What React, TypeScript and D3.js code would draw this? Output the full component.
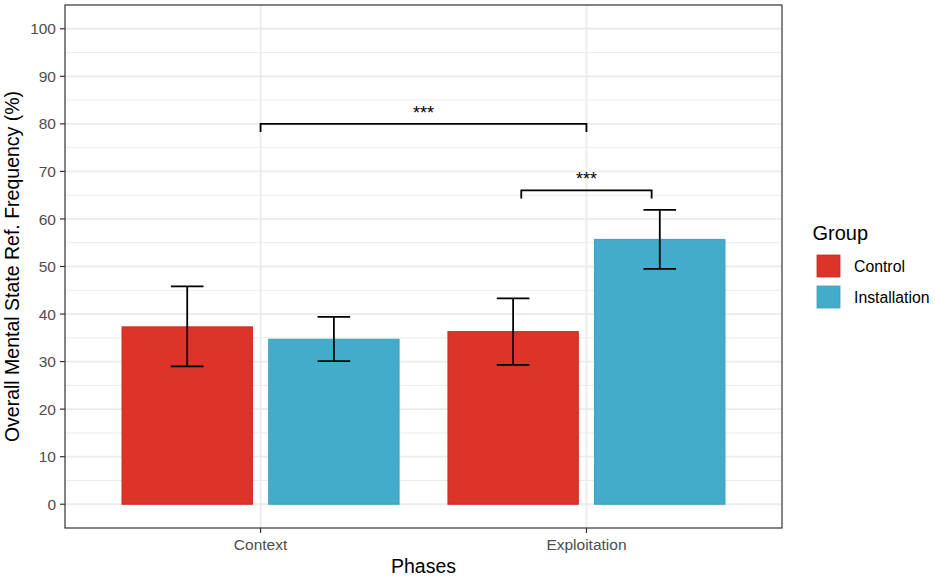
import React, { useEffect } from 'react';
import * as d3 from 'd3';

const phases = ['Context', 'Exploitation'];
const groups = ['Control', 'Installation'];
const groupColors = ['#DD3328', '#42ACCA'];
const groupStroke = ['#C92A20', '#3AA0BE'];

// mean, lower, upper per phase for each group
const controlMean = [37.3, 36.3];
const controlLow = [29.0, 29.3];
const controlHigh = [45.8, 43.3];
const installMean = [34.7, 55.7];
const installLow = [30.1, 49.5];
const installHigh = [39.4, 61.9];

const yTicks = [0, 10, 20, 30, 40, 50, 60, 70, 80, 90, 100];
const yMinor = [5, 15, 25, 35, 45, 55, 65, 75, 85, 95];

// significance brackets: [x1, x2] in discrete units, y level, label
const brackets = [
  { x1: 1, x2: 2, y: 80, label: '***' },
  { x1: 1.8, x2: 2.2, y: 66, label: '***' },
];

const W = 935;
const H = 576;
const panel = { left: 65, top: 5, right: 782, bottom: 528 };
const font = '"Liberation Sans", Arial, sans-serif';

export default function App() {
  useEffect(() => {
    document.body.style.margin = '0';
  }, []);

  const x = d3.scaleLinear().domain([0.4, 2.6]).range([panel.left, panel.right]);
  const y = d3.scaleLinear().domain([-5, 105]).range([panel.bottom, panel.top]);

  const series = [
    { mean: controlMean, low: controlLow, high: controlHigh },
    { mean: installMean, low: installLow, high: installHigh },
  ];
  const dodge = [-0.225, 0.225];
  const barW = x(1.4) - x(1);
  const capW = x(1.1) - x(1);
  const tip = y(0) - y(1.7);

  return (
    <svg width={W} height={H} style={{ display: 'block', position: 'absolute', left: 0, top: 0 }} fontFamily={font}>
      <rect x={0} y={0} width={W} height={H} fill="#fff" />
      {/* grid */}
      {yMinor.map((t) => (
        <line key={'mn' + t} x1={panel.left} x2={panel.right} y1={y(t)} y2={y(t)} stroke="#EBEBEB" strokeWidth={1} />
      ))}
      {yTicks.map((t) => (
        <line key={'mj' + t} x1={panel.left} x2={panel.right} y1={y(t)} y2={y(t)} stroke="#EBEBEB" strokeWidth={1.8} />
      ))}
      {phases.map((p, i) => (
        <line key={'vx' + p} x1={x(i + 1)} x2={x(i + 1)} y1={panel.top} y2={panel.bottom} stroke="#EBEBEB" strokeWidth={1.8} />
      ))}
      {/* bars */}
      {series.map((s, gi) =>
        phases.map((p, pi) => {
          const cx = x(pi + 1 + dodge[gi]);
          return (
            <rect
              key={`bar-${gi}-${pi}`}
              x={cx - barW / 2}
              y={y(s.mean[pi])}
              width={barW}
              height={y(0) - y(s.mean[pi])}
              fill={groupColors[gi]}
              stroke={groupStroke[gi]}
              strokeWidth={1}
            />
          );
        })
      )}
      {/* error bars */}
      {series.map((s, gi) =>
        phases.map((p, pi) => {
          const cx = x(pi + 1 + dodge[gi]);
          return (
            <g key={`err-${gi}-${pi}`} stroke="#000" strokeWidth={1.8} fill="none">
              <line x1={cx} x2={cx} y1={y(s.low[pi])} y2={y(s.high[pi])} />
              <line x1={cx - capW / 2} x2={cx + capW / 2} y1={y(s.low[pi])} y2={y(s.low[pi])} />
              <line x1={cx - capW / 2} x2={cx + capW / 2} y1={y(s.high[pi])} y2={y(s.high[pi])} />
            </g>
          );
        })
      )}
      {/* significance brackets */}
      {brackets.map((b, i) => (
        <g key={'br' + i}>
          <path
            d={`M${x(b.x1)},${y(b.y) + tip}V${y(b.y)}H${x(b.x2)}V${y(b.y) + tip}`}
            fill="none"
            stroke="#000"
            strokeWidth={1.8}
          />
          <text x={(x(b.x1) + x(b.x2)) / 2} y={y(b.y) - 5} textAnchor="middle" fontSize={18} fill="#000">
            {b.label}
          </text>
        </g>
      ))}
      {/* panel border */}
      <rect
        x={panel.left}
        y={panel.top}
        width={panel.right - panel.left}
        height={panel.bottom - panel.top}
        fill="none"
        stroke="#333"
        strokeWidth={1.2}
      />
      {/* y axis */}
      {yTicks.map((t) => (
        <g key={'yt' + t}>
          <line x1={panel.left - 5} x2={panel.left} y1={y(t)} y2={y(t)} stroke="#333" strokeWidth={1.2} />
          <text x={panel.left - 9} y={y(t)} dy="0.36em" textAnchor="end" fontSize={15.5} fill="#4D4D4D">
            {t}
          </text>
        </g>
      ))}
      {/* x axis */}
      {phases.map((p, i) => (
        <g key={'xt' + p}>
          <line x1={x(i + 1)} x2={x(i + 1)} y1={panel.bottom} y2={panel.bottom + 5} stroke="#333" strokeWidth={1.2} />
          <text x={x(i + 1)} y={panel.bottom + 22} textAnchor="middle" fontSize={15.5} fill="#4D4D4D">
            {p}
          </text>
        </g>
      ))}
      <text x={(panel.left + panel.right) / 2} y={572.5} textAnchor="middle" fontSize={19.5} fill="#000">
        Phases
      </text>
      <text
        transform={`translate(19,${(panel.top + panel.bottom) / 2}) rotate(-90)`}
        textAnchor="middle"
        fontSize={19.5}
        fill="#000"
      >
        Overall Mental State Ref. Frequency (%)
      </text>
      {/* legend */}
      <text x={812.5} y={240} fontSize={20} fill="#000">
        Group
      </text>
      {groups.map((g, i) => (
        <g key={'lg' + g}>
          <rect x={817} y={255 + i * 31} width={23} height={22} fill={groupColors[i]} stroke={groupStroke[i]} strokeWidth={0.8} />
          <text x={854} y={266 + i * 31} dy="0.36em" fontSize={15.8} fill="#000">
            {g}
          </text>
        </g>
      ))}
    </svg>
  );
}
